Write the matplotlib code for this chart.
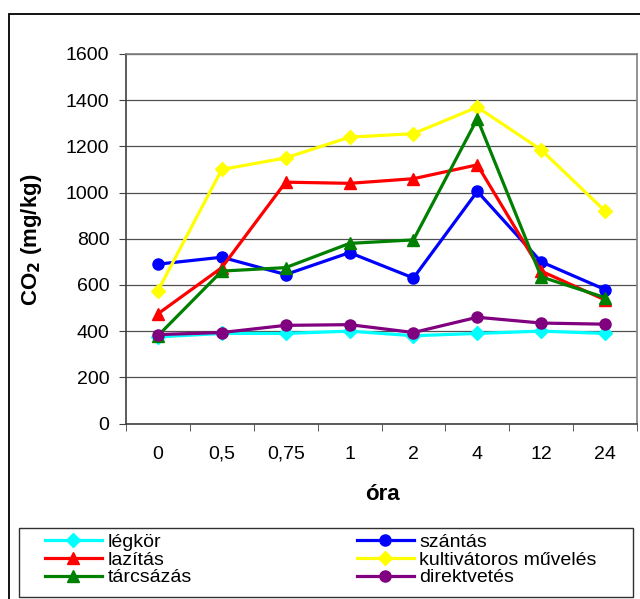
import matplotlib
matplotlib.use("Agg")
import matplotlib.pyplot as plt
from matplotlib.patches import Rectangle

plt.rcParams['font.family'] = ['Liberation Sans', 'DejaVu Sans']

W, H = 640, 599

categories = ["0", "0,5", "0,75", "1", "2", "4", "12", "24"]

legkor = [375, 390, 390, 400, 380, 390, 400, 390]
szantas = [690, 720, 645, 740, 630, 1005, 700, 580]
lazitas = [475, 675, 1045, 1040, 1060, 1120, 660, 535]
kultivatoros = [575, 1100, 1150, 1240, 1255, 1370, 1185, 920]
tarcsazas = [380, 660, 675, 780, 795, 1320, 635, 545]
direktvetes = [385, 394, 425, 428, 394, 460, 435, 430]

series = [
    ("légkör", legkor, "#00FFFF", "D"),
    ("szántás", szantas, "#0000FF", "o"),
    ("lazítás", lazitas, "#FF0000", "^"),
    ("kultivátoros művelés", kultivatoros, "#FFFF00", "D"),
    ("tárcsázás", tarcsazas, "#008000", "^"),
    ("direktvetés", direktvetes, "#800080", "o"),
]


def px_box(x0, y0, x1, y1):
    """Pixel box (top-left origin) -> figure-fraction rect."""
    return [x0 / W, 1 - y1 / H, (x1 - x0) / W, (y1 - y0) / H]


fig = plt.figure(figsize=(W / 100, H / 100), dpi=100)
ax = fig.add_axes(px_box(126, 54, 637, 423.5))

x = list(range(len(categories)))
handles = {}
for name, vals, col, mk in series:
    ms = 7 if mk == "D" else 8
    h, = ax.plot(x, vals, color=col, marker=mk, markersize=ms, linewidth=2.3,
                 markeredgecolor=col, label=name, clip_on=False)
    handles[name] = h

ax.set_xlim(-0.5, len(categories) - 0.5)
ax.set_ylim(0, 1600)
ax.set_yticks(range(0, 1601, 200))
ax.set_xticks(x)
ax.set_xticklabels(categories)
ax.set_xticks([i - 0.5 for i in range(len(categories) + 1)], minor=True)
ax.tick_params(axis='x', which='major', length=0, pad=16, labelsize=14)
ax.tick_params(axis='x', which='minor', length=5, direction='out', color='#404040')
ax.tick_params(axis='y', length=5, direction='out', labelsize=14, color='#404040', pad=7)

ax.grid(axis='y', color='#505050', linewidth=0.9)
ax.set_axisbelow(True)
for s in ['left', 'bottom']:
    ax.spines[s].set_color('#404040')
    ax.spines[s].set_linewidth(1.2)
for s in ['top', 'right']:
    ax.spines[s].set_color('#808080')
    ax.spines[s].set_linewidth(1.2)

# axis titles
fig.text(382 / W, 1 - 495 / H, "óra", fontsize=16, fontweight='bold',
         ha='center', va='center')
fig.text(32 / W, 1 - 240 / H, "CO$_\\mathbf{2}$ (mg/kg)", fontsize=16,
         fontweight='bold', rotation=90, ha='center', va='center')

# legend: two columns, frame drawn separately
order = ["légkör", "lazítás", "tárcsázás", "szántás", "kultivátoros művelés", "direktvetés"]
leg = fig.legend([handles[n] for n in order], order, ncol=2,
                 loc='upper left', bbox_to_anchor=(45 / W, 1 - 533.5 / H),
                 fontsize=14, frameon=False, handlelength=2.93,
                 handletextpad=0.28, labelspacing=0.0, borderpad=0,
                 columnspacing=8.5, borderaxespad=0)

fig.patches.append(Rectangle((19 / W, 1 - 597 / H), (633 - 19) / W, (597 - 528) / H,
                             transform=fig.transFigure, fill=False,
                             edgecolor='#303030', linewidth=1.0))

# outer chart-area border (runs off the right and bottom edges)
fig.patches.append(Rectangle((9 / W, -0.05), 1.1, 1 - 14 / H + 0.05,
                             transform=fig.transFigure, fill=False,
                             edgecolor='black', linewidth=1.3))

fig.savefig("out.png", dpi=100)
